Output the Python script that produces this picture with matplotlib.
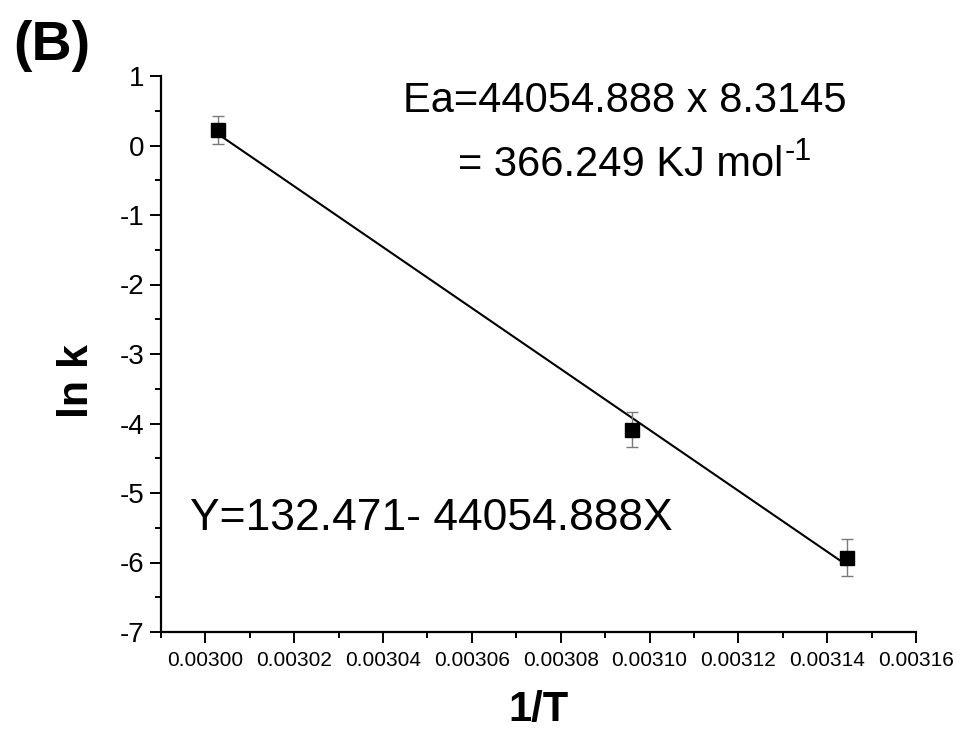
import numpy as np
import matplotlib
matplotlib.use("Agg")
import matplotlib.pyplot as plt
from matplotlib.ticker import MultipleLocator, FormatStrFormatter

# data
inv_T = [0.0030029, 0.0030961, 0.0031445]
ln_k = [0.22, -4.09, -5.93]
ln_k_err = [0.20, 0.25, 0.27]

W, H = 960, 731

plt.rcParams.update({
    "font.family": ["Liberation Sans", "DejaVu Sans"],
    "axes.unicode_minus": False,
})

fig = plt.figure(figsize=(W / 100, H / 100), dpi=100)
ax = fig.add_axes([161 / W, 1 - 632 / H, (916 - 161) / W, (632 - 76) / H])

# linear fit drawn between first and last point
slope, icpt = np.polyfit(inv_T, ln_k, 1)
xs = np.array([inv_T[0], inv_T[-1]])
ax.plot(xs, icpt + slope * xs, color="black", lw=1.5, zorder=2)

ax.errorbar(inv_T, ln_k, yerr=ln_k_err, fmt="none", ecolor="#7a7a7a",
            elinewidth=1.0, capsize=4, capthick=1.0, zorder=3)
ax.plot(inv_T, ln_k, "s", color="black", markersize=9.5, zorder=4)

ax.set_xlim(0.00299, 0.00316)
ax.set_ylim(-7, 1)
ax.xaxis.set_major_locator(MultipleLocator(0.00002))
ax.xaxis.set_minor_locator(MultipleLocator(0.00001))
ax.xaxis.set_major_formatter(FormatStrFormatter("%.5f"))
ax.yaxis.set_major_locator(MultipleLocator(1))
ax.yaxis.set_minor_locator(MultipleLocator(0.5))

for s in ("top", "right"):
    ax.spines[s].set_visible(False)
for s in ("left", "bottom"):
    ax.spines[s].set_linewidth(1.6)
ax.tick_params(which="major", direction="out", length=8, width=1.4)
ax.tick_params(which="minor", direction="out", length=4.5, width=1.4)
ax.tick_params(axis="x", labelsize=15, pad=6)
ax.tick_params(axis="y", labelsize=20, pad=4)

ax.set_xlabel("1/T", fontsize=30, fontweight="bold")
ax.xaxis.set_label_coords(0.5, -0.105)
ax.set_ylabel("ln k", fontsize=31, fontweight="bold")
ax.yaxis.set_label_coords(-0.085, 0.451)

fig.text(13 / W, 1 - 60 / H, "(B)", fontsize=40, fontweight="bold",
         ha="left", va="baseline")
fig.text(403 / W, 1 - 112 / H, "Ea=44054.888 x 8.3145", fontsize=30,
         ha="left", va="baseline")
t2 = fig.text(458 / W, 1 - 176 / H, "= 366.249 KJ mol", fontsize=30,
              ha="left", va="baseline")
ax.annotate("-1", xy=(1, 0), xycoords=t2, xytext=(1, 18),
            textcoords="offset points", fontsize=22, ha="left", va="baseline",
            annotation_clip=False)
fig.text(190 / W, 1 - 530 / H, "Y=132.471- 44054.888X", fontsize=32,
         ha="left", va="baseline")

fig.savefig("out.png", dpi=100, facecolor="white")
